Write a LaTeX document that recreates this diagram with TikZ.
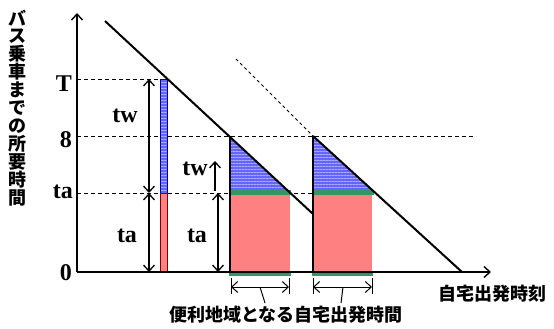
\documentclass[tikz,border=0pt]{standalone}
\usepackage{fontspec}
\setmainfont{Liberation Serif}
\newfontfamily\jp{Noto Sans CJK JP}
\usetikzlibrary{arrows.meta,patterns.meta}
\definecolor{bluefill}{RGB}{100,100,255}
\definecolor{bluestripe}{RGB}{170,170,255}
\definecolor{redfill}{RGB}{255,128,128}
\definecolor{greenbar}{RGB}{51,150,100}
\begin{document}
\begin{tikzpicture}[x=1pt,y=-1pt,
  tip/.style={-{Straight Barb[length=6pt,width=11pt]}},
  dtip/.style={{Straight Barb[length=6pt,width=11pt]}-{Straight Barb[length=6pt,width=11pt]}},
  axisline/.style={line width=1.4pt},
  guide/.style={dashed,line width=0.8pt,dash pattern=on 4pt off 3pt},
  diag/.style={line width=2pt},
  hatch/.style={preaction={fill=bluefill},pattern={Lines[angle=0,distance=3pt,line width=1pt]},pattern color=bluestripe},
  redbox/.style={fill=redfill},
  greenstrip/.style={fill=greenbar},
  lab/.style={font=\bfseries\fontsize{24}{28}\selectfont,inner sep=0pt},
  jlab/.style={font=\jp\bfseries\fontsize{18}{18}\selectfont,inner sep=0pt}]
\useasboundingbox (0,0) rectangle (554,329);

% key coordinates
\coordinate (O) at (77,272);
\coordinate (ytop) at (77,13);
\coordinate (xend) at (491,272);
\coordinate (yT) at (77,79);
\coordinate (y8) at (77,136);
\coordinate (yta) at (77,193);

% guide lines
\draw[guide] (yT) -- (160,79);
\draw[guide] (y8) -- (476,136);
\draw[guide] (yta) -- (313,193);

% shaded regions 1
\fill[hatch] (230,136) -- (230,193) -- (290,193) -- cycle;
\fill[redbox] (230,193) rectangle (290,272);
\fill[greenstrip] (230,190) rectangle (291,195);
\fill[greenstrip] (229,271) rectangle (291,276);
% shaded regions 2
\fill[hatch] (313,136) -- (313,193) -- (374,193) -- cycle;
\fill[redbox] (313,193) rectangle (372,272);
\fill[greenstrip] (313,190) rectangle (374,195);
\fill[greenstrip] (312,271) rectangle (373,276);

% bar
\filldraw[hatch,draw=blue!70!black,line width=0.6pt] (160,79) rectangle (167,193);
\filldraw[redbox,draw=red!50!black,line width=0.6pt] (160,193) rectangle (167,272);

% axes
\draw[axisline,tip] (O) -- (ytop);
\draw[axisline,tip] (O) -- (xend);

% vertical lines
\draw[line width=1.4pt] (230,136) -- (230,272);
\draw[line width=1.4pt] (313,136) -- (313,272);

% diagonals
\draw[diag] (105,21) -- (313,214);
\draw[diag] (313,136) -- (462,272);
\draw[guide,dash pattern=on 3pt off 3pt] (236,59) -- (313,136);

% arrows
\coordinate (a1t) at (149,79);
\coordinate (a1m) at (149,193);
\coordinate (a1b) at (149,272);
\draw[line width=1.3pt,dtip] (a1t) -- (a1m);
\draw[line width=1.3pt,dtip] (a1m) -- (a1b);
\coordinate (a2b) at (215,191);
\coordinate (a2t) at (215,161);
\draw[line width=1.3pt,tip] (a2b) -- (a2t);
\coordinate (a3t) at (218,193);
\coordinate (a3b) at (218,272);
\draw[line width=1.3pt,dtip] (a3t) -- (a3b);

% labels
\node[lab,anchor=base east] (LT) at (72,91) {T};
\node[lab,anchor=base east] (L8) at (72,147) {8};
\node[lab,anchor=base east] (Lta) at (73,198) {ta};
\node[lab,anchor=base east] (L0) at (72,280) {0};
\node[lab,anchor=base] (tw1) at (125,122) {tw};
\node[lab,anchor=base] (ta1) at (127,242) {ta};
\node[lab,anchor=base] (tw2) at (195,175) {tw};
\node[lab,anchor=base] (ta2) at (197,242) {ta};

% bottom brackets
\coordinate (b1l) at (231,278); \coordinate (b1lb) at (231,294);
\coordinate (b1r) at (289,278); \coordinate (b1rb) at (289,294);
\coordinate (b2l) at (313,278); \coordinate (b2lb) at (313,294);
\coordinate (b2r) at (372,278); \coordinate (b2rb) at (372,294);
\draw[line width=0.8pt] (b1l) -- (b1lb) (b1r) -- (b1rb) (b2l) -- (b2lb) (b2r) -- (b2rb);
\coordinate (c1l) at (231,287); \coordinate (c1r) at (289,287);
\coordinate (c2l) at (313,287); \coordinate (c2r) at (372,287);
\draw[line width=1pt,dtip] (c1l) -- (c1r);
\draw[line width=1pt,dtip] (c2l) -- (c2r);

\node[jlab] (bottomlab) at (286,315) {便利地域となる自宅出発時間};
\coordinate (p1a) at (260,287); \coordinate (p1b) at (265,303);
\coordinate (p2a) at (343,287); \coordinate (p2b) at (341,303);
\draw[line width=1pt] (p1a) -- (p1b);
\draw[line width=1pt] (p2a) -- (p2b);

\node[jlab,anchor=west] (xlab) at (438,294) {自宅出発時刻};
\foreach \ch [count=\i] in {バ,ス,乗,車,ま,で,の,所,要,時,間}
  \node[jlab] (ylab\i) at (18,{18*\i}) {\ch};
\end{tikzpicture}
\end{document}
